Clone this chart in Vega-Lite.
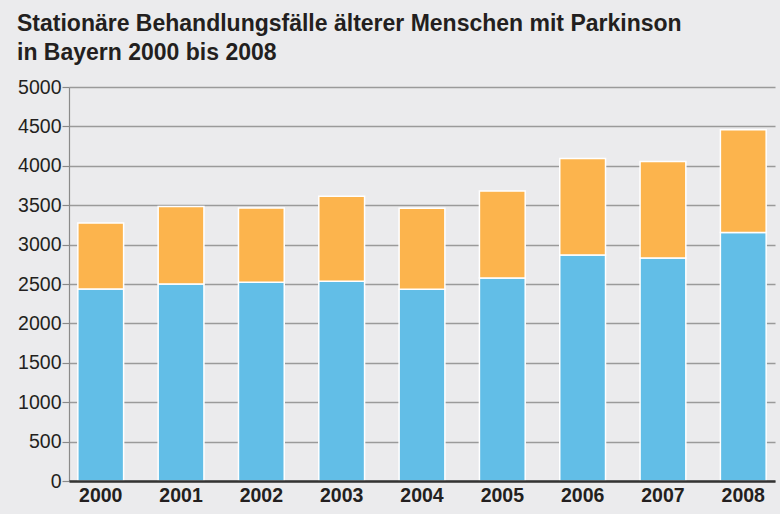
{
  "$schema": "https://vega.github.io/schema/vega-lite/v6.json",
  "width": 706,
  "height": 394,
  "autosize": {"type": "none"},
  "padding": {"left": 69, "top": 87, "right": 5, "bottom": 33},
  "background": "#ebebed",
  "title": {
    "text": ["Stationäre Behandlungsfälle älterer Menschen mit Parkinson", "in Bayern 2000 bis 2008"],
    "anchor": "start",
    "frame": "group",
    "dx": -52,
    "font": "Liberation Sans",
    "fontSize": 23,
    "fontWeight": "bold",
    "color": "#231f20",
    "lineHeight": 29,
    "offset": 12
  },
  "data": {
    "values": [
      {"Jahr": "2000", "Gruppe": "Teil 1", "Ordnung": 1, "Faelle": 2437},
      {"Jahr": "2000", "Gruppe": "Teil 2", "Ordnung": 2, "Faelle": 837},
      {"Jahr": "2001", "Gruppe": "Teil 1", "Ordnung": 1, "Faelle": 2500},
      {"Jahr": "2001", "Gruppe": "Teil 2", "Ordnung": 2, "Faelle": 985},
      {"Jahr": "2002", "Gruppe": "Teil 1", "Ordnung": 1, "Faelle": 2521},
      {"Jahr": "2002", "Gruppe": "Teil 2", "Ordnung": 2, "Faelle": 943},
      {"Jahr": "2003", "Gruppe": "Teil 1", "Ordnung": 1, "Faelle": 2534},
      {"Jahr": "2003", "Gruppe": "Teil 2", "Ordnung": 2, "Faelle": 1078},
      {"Jahr": "2004", "Gruppe": "Teil 1", "Ordnung": 1, "Faelle": 2432},
      {"Jahr": "2004", "Gruppe": "Teil 2", "Ordnung": 2, "Faelle": 1028},
      {"Jahr": "2005", "Gruppe": "Teil 1", "Ordnung": 1, "Faelle": 2577},
      {"Jahr": "2005", "Gruppe": "Teil 2", "Ordnung": 2, "Faelle": 1103},
      {"Jahr": "2006", "Gruppe": "Teil 1", "Ordnung": 1, "Faelle": 2868},
      {"Jahr": "2006", "Gruppe": "Teil 2", "Ordnung": 2, "Faelle": 1226},
      {"Jahr": "2007", "Gruppe": "Teil 1", "Ordnung": 1, "Faelle": 2830},
      {"Jahr": "2007", "Gruppe": "Teil 2", "Ordnung": 2, "Faelle": 1226},
      {"Jahr": "2008", "Gruppe": "Teil 1", "Ordnung": 1, "Faelle": 3155},
      {"Jahr": "2008", "Gruppe": "Teil 2", "Ordnung": 2, "Faelle": 1302}
    ]
  },
  "mark": {"type": "bar", "stroke": "#ffffff", "strokeWidth": 1.5},
  "encoding": {
    "x": {
      "field": "Jahr",
      "type": "ordinal",
      "scale": {"paddingInner": 0.43, "paddingOuter": 0.11},
      "axis": {
        "title": null,
        "labelAngle": 0,
        "labelFont": "Liberation Sans",
        "labelFontSize": 19.5,
        "labelFontWeight": "bold",
        "labelColor": "#231f20",
        "labelPadding": 5,
        "ticks": false,
        "domainColor": "#333333",
        "domainWidth": 2.5,
        "zindex": 1
      }
    },
    "y": {
      "field": "Faelle",
      "type": "quantitative",
      "stack": "zero",
      "scale": {"domain": [0, 5000], "nice": false},
      "axis": {
        "title": null,
        "format": "d",
        "values": [0, 500, 1000, 1500, 2000, 2500, 3000, 3500, 4000, 4500, 5000],
        "labelFont": "Liberation Sans",
        "labelFontSize": 19.5,
        "labelColor": "#231f20",
        "labelPadding": 1,
        "tickSize": 7,
        "tickColor": "#8a8a8a",
        "tickWidth": 1.2,
        "domainColor": "#8a8a8a",
        "domainWidth": 1.2,
        "gridColor": "#9a9a9a",
        "gridWidth": 1.5
      }
    },
    "color": {
      "field": "Gruppe",
      "type": "nominal",
      "scale": {"domain": ["Teil 1", "Teil 2"], "range": ["#62bee7", "#fcb44d"]},
      "legend": null
    },
    "order": {"field": "Ordnung", "type": "quantitative"}
  },
  "config": {"view": {"stroke": null}}
}
